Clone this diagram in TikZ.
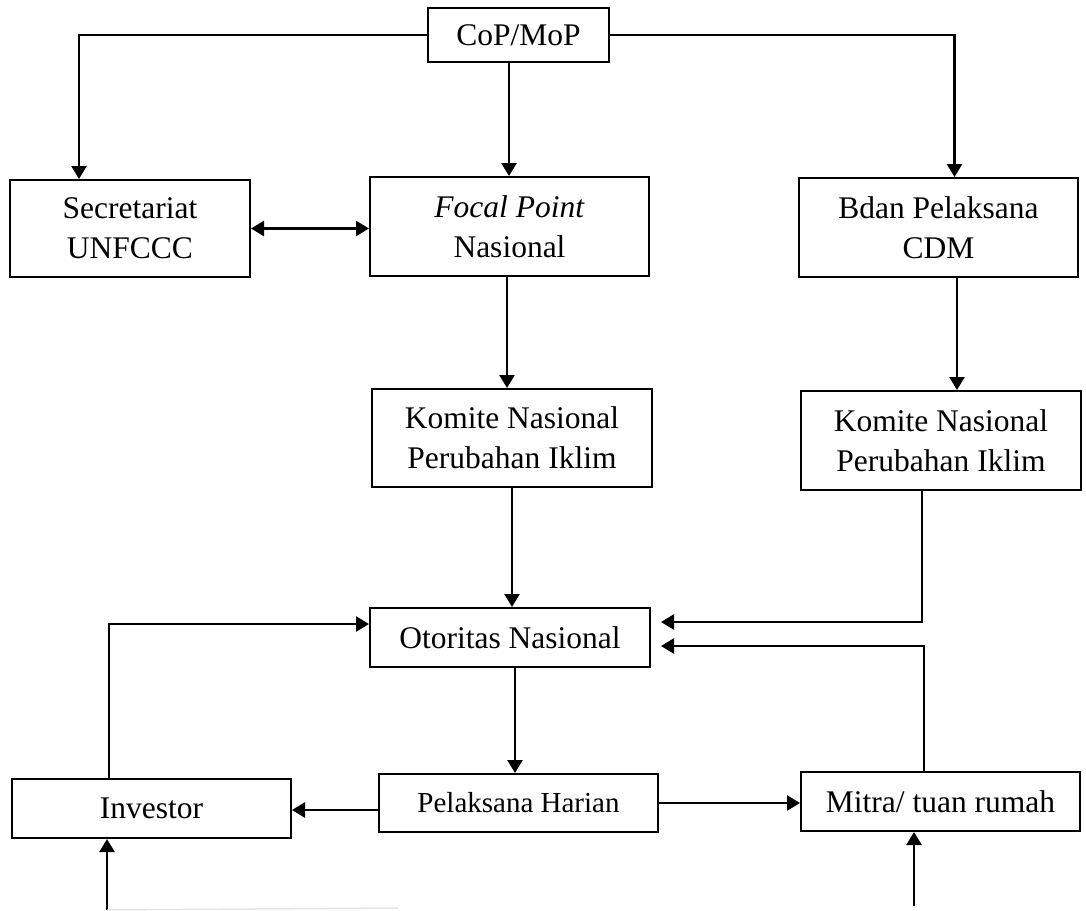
\documentclass[tikz,border=0pt]{standalone}
\usepackage{fontspec}
\setmainfont{Liberation Serif}
\usetikzlibrary{arrows.meta}
\newcommand{\bigfs}{\fontsize{31.5pt}{40pt}\selectfont}
\newcommand{\smallfs}{\fontsize{29pt}{34pt}\selectfont}
\begin{document}
\begin{tikzpicture}[x=1pt,y=1pt,
  box/.style={draw, line width=2pt, inner sep=0pt, align=center, font=\bigfs},
  conn/.style={line width=2.6pt},
  arr/.style={conn, -{Triangle[length=13pt,width=15pt]}},
  darr/.style={conn, {Triangle[length=13pt,width=15pt]}-{Triangle[length=13pt,width=15pt]}}]
\useasboundingbox (0,0) rectangle (1086,-910);
\fill[white] (0,0) rectangle (1086,-910);

\node[box, minimum width=181pt, minimum height=54pt] (cop) at (518.5,-35) {CoP/MoP};
\node[box, minimum width=240pt, minimum height=97pt] (sec) at (130,-228.5) {Secretariat\\UNFCCC};
\node[box, minimum width=279pt, minimum height=99pt] (focal) at (509.5,-226.5) {\textit{Focal Point}\\Nasional};
\node[box, minimum width=279pt, minimum height=99pt] (bdan) at (938.5,-227.5) {Bdan Pelaksana\\CDM};
\node[box, minimum width=280pt, minimum height=98pt] (koml) at (512,-438) {Komite Nasional\\Perubahan Iklim};
\node[box, minimum width=280pt, minimum height=99pt] (komr) at (941,-440.5) {Komite Nasional\\Perubahan Iklim};
\node[box, minimum width=280pt, minimum height=59pt] (oto) at (510,-637.5) {Otoritas Nasional};
\node[box, minimum width=279pt, minimum height=59pt] (inv) at (151.5,-808.5) {Investor};
\node[box, minimum width=279pt, minimum height=58pt, font=\smallfs] (pel) at (518.5,-803) {Pelaksana Harian};
\node[box, minimum width=279pt, minimum height=59pt] (mitra) at (940.5,-801.5) {Mitra/ tuan rumah};

\coordinate (b1) at (107,-910);
\coordinate (b2) at (914,-906);
\coordinate (g1) at (398,-908);

% top distribution
\draw[arr] (cop.west) -| ([xshift=-51pt]sec.north);
\draw[arr] (cop.east) -| ([xshift=16pt]bdan.north);
\draw[arr] ([xshift=-9.5pt]cop.south) -- ([xshift=-9.5pt]cop.south |- focal.north);
\draw[darr] (sec.east) -- (sec.east -| focal.west);

% down the middle and right
\draw[arr] ([xshift=-2.5pt]focal.south) -- ([xshift=-2.5pt]focal.south |- koml.north);
\draw[arr] ([xshift=18.5pt]bdan.south) -- ([xshift=18.5pt]bdan.south |- komr.north);
\draw[arr] (koml.south) -- (koml.south |- oto.north);
\draw[arr] ([xshift=-19pt]komr.south) |- ([shift={(10pt,15.5pt)}]oto.east);
\draw[arr] ([xshift=-16.5pt]mitra.north) |- ([shift={(10pt,-8.5pt)}]oto.east);
\draw[arr] ([xshift=-42.5pt]inv.north) |- ([yshift=13.5pt]oto.west);
\draw[arr] ([xshift=5pt]oto.south) -- ([xshift=5pt]oto.south |- pel.north);

% bottom row
\draw[arr] ([yshift=-7pt]pel.west) -- ([yshift=-7pt]pel.west -| inv.east);
\draw[arr] (pel.east) -- (pel.east -| mitra.west);
\draw[arr] (b1) -- (b1 |- inv.south);
\draw[arr] (b2) -- (b2 |- mitra.south);
\draw[gray!20, line width=1.5pt] (b1) -- (g1);
\end{tikzpicture}
\end{document}
